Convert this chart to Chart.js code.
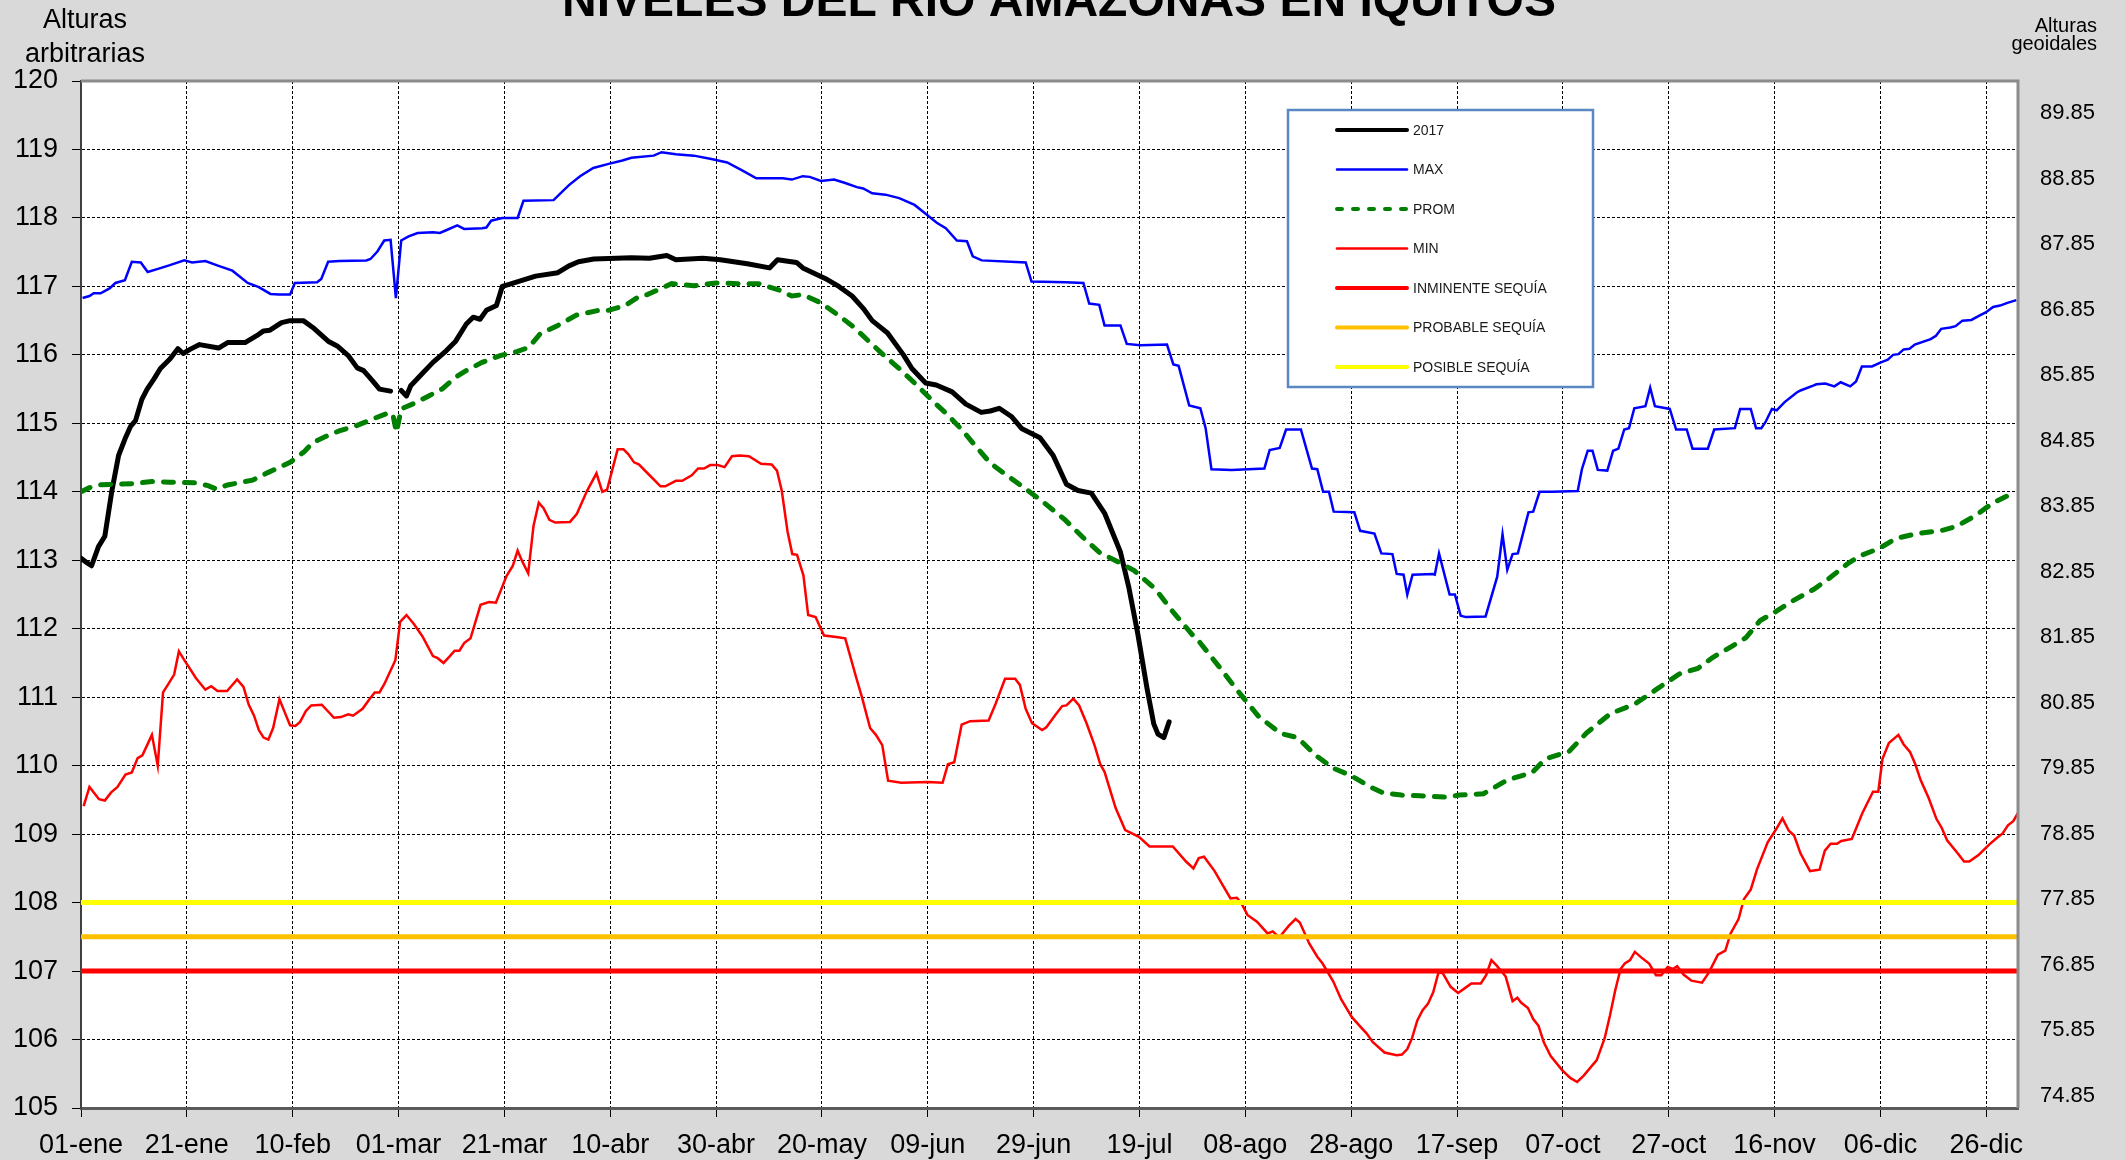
<!DOCTYPE html>
<html>
<head>
<meta charset="utf-8">
<title>Niveles del río Amazonas en Iquitos</title>
<script src="https://cdn.jsdelivr.net/npm/chart.js@4.4.0/dist/chart.umd.min.js"></script>
<style>
  html, body { margin: 0; padding: 0; background: #d9d9d9; }
  #wrap { width: 2125px; height: 1160px; }
</style>
</head>
<body>
<div id="wrap"><canvas id="chart" width="2125" height="1160"></canvas></div>
<script>
// x axis: day of a leap year (0 = 01-ene), ticks every 20 days
const X_MIN = 0;
const X_MAX = 366;
const tickDays = [0, 20, 40, 60, 80, 100, 120, 140, 160, 180, 200, 220, 240, 260, 280, 300, 320, 340, 360];
const tickLabels = ['01-ene', '21-ene', '10-feb', '01-mar', '21-mar', '10-abr', '30-abr', '20-may', '09-jun',
  '29-jun', '19-jul', '08-ago', '28-ago', '17-sep', '07-oct', '27-oct', '16-nov', '06-dic', '26-dic'];

// secondary (geoid) heights shown on the right
const geoidTicks = [74.85, 75.85, 76.85, 77.85, 78.85, 79.85, 80.85, 81.85, 82.85, 83.85, 84.85, 85.85,
  86.85, 87.85, 88.85, 89.85];

// 2017 (29-feb has no reading)
const days2017 = [0, 1, 2, 3.3, 4.5, 5.8, 7.1, 8.3, 9.4, 10.3,
  11.5, 12.5, 13.8, 15, 16.8, 18.3, 19.3, 20.6, 22.4, 26,
  27.7, 31, 33.2, 34.5, 35.7, 37.9, 39.5, 42, 43.8, 46.7,
  48.4, 50.5, 52.2, 53.4, 55.1, 56.4, 58.5, 59, 60.5, 61.5,
  62.3, 64.4, 66.5, 69, 70.8, 72.8, 74.1, 75.4, 76.6, 78.5,
  79.6, 80.9, 85.9, 90.1, 92.2, 94, 96.9, 104, 107.4, 110.7,
  112.4, 117.5, 120.8, 125.9, 130.1, 131.6, 135.2, 136.4, 141, 143.2,
  145.7, 147.8, 149.5, 152.4, 155.4, 157, 159.6, 161.6, 164.6, 167.2,
  170.1, 171.8, 173.5, 175.8, 177.8, 181.2, 183.7, 186.2, 188.4, 190.9,
  193.4, 196.4, 198, 199.7, 201.4, 202.7, 203.5, 204.6, 205.6];
const level2017 = [113.03, 112.97, 112.92, 113.2, 113.35, 114.0, 114.53, 114.77, 114.96, 115.04,
  115.35, 115.5, 115.65, 115.8, 115.94, 116.09, 116.02, 116.08, 116.15, 116.1,
  116.18, 116.18, 116.28, 116.35, 116.36, 116.47, 116.5, 116.5, 116.4, 116.2,
  116.13, 115.99, 115.81, 115.77, 115.62, 115.5, 115.47, null, 115.48, 115.4,
  115.55, 115.72, 115.89, 116.06, 116.2, 116.45, 116.55, 116.52, 116.65, 116.72,
  117.0, 117.03, 117.15, 117.2, 117.3, 117.36, 117.4, 117.42, 117.41, 117.45,
  117.39, 117.41, 117.39, 117.33, 117.27, 117.39, 117.35, 117.27, 117.1, 117.0,
  116.86, 116.68, 116.5, 116.32, 116.0, 115.8, 115.59, 115.56, 115.46, 115.28,
  115.16, 115.18, 115.22, 115.1, 114.92, 114.79, 114.53, 114.11, 114.02, 113.98,
  113.69, 113.12, 112.6, 111.92, 111.14, 110.61, 110.46, 110.41, 110.64];

// historical maximum
const daysMax = [0.3, 1.6, 2.4, 3.7, 5.4, 6.5, 8.3, 9.6, 11.3, 12.6,
  14.7, 16.8, 19.5, 21, 23.5, 26, 28.6, 31.5, 33.6, 35.8,
  37.4, 39.5, 40.4, 44.6, 45.4, 46.7, 48.8, 53.9, 54.7, 56,
  57.3, 58.5, 59.5, 60.5, 61.9, 63.6, 66.5, 67.8, 69, 71.1,
  72.4, 75.8, 76.6, 77.5, 79.6, 82.5, 83.6, 89.3, 90.5, 92.2,
  94.3, 96.8, 99.7, 102.3, 104, 108.2, 109.7, 112.4, 115.8, 119.1,
  122.1, 125, 127.6, 132.6, 134.3, 136.4, 137.7, 139.8, 142.3, 144.4,
  146.6, 147.8, 149.5, 152, 154.6, 157.5, 159.6, 161.7, 163.4, 165.5,
  167.4, 168.5, 170.2, 178.5, 179.6, 186, 189.4, 190.5, 192.4, 193.4,
  196.4, 197.6, 200.2, 205.2, 206.4, 207.4, 209.4, 211.5, 212.5, 213.6,
  217.4, 223.6, 224.6, 226.5, 227.7, 230.5, 232.6, 233.6, 234.7, 235.8,
  236.7, 240.6, 241.7, 244.4, 245.7, 247.8, 248.6, 249.9, 250.6, 251.6,
  255.4, 255.8, 256.6, 258.6, 259.6, 260.7, 261.7, 265.4, 267.6, 268.6,
  269.5, 270.5, 271.5, 273.5, 274.4, 275.6, 278, 282.8, 283.6, 284.7,
  285.6, 286.6, 288.4, 289.5, 290.5, 291.6, 292.5, 293.5, 295.6, 296.5,
  297.4, 300.2, 301.4, 303.4, 304.5, 307.4, 308.6, 312.5, 313.5, 315.5,
  316.5, 317.5, 318.3, 319.5, 320.4, 321.9, 324.2, 324.9, 327.3, 327.9,
  329.6, 331.3, 332.5, 334.3, 335.4, 336.5, 338.4, 340.1, 341.4, 342.4,
  343.4, 344.4, 345.5, 346.5, 349.5, 350.5, 351.5, 353.2, 354.2, 355.5,
  357.2, 358.6, 359.9, 361.3, 362.6, 364, 365.7];
const levelMax = [116.83, 116.86, 116.9, 116.9, 116.97, 117.05, 117.09, 117.36, 117.35, 117.21,
  117.26, 117.31, 117.38, 117.35, 117.37, 117.3, 117.23, 117.05, 116.99, 116.89,
  116.88, 116.88, 117.05, 117.06, 117.11, 117.36, 117.37, 117.38, 117.4, 117.51,
  117.67, 117.68, 116.83, 117.67, 117.73, 117.78, 117.79, 117.78, 117.82, 117.89,
  117.84, 117.85, 117.86, 117.96, 118.0, 118.0, 118.25, 118.26, 118.35, 118.48,
  118.61, 118.73, 118.79, 118.84, 118.88, 118.91, 118.96, 118.93, 118.91, 118.86,
  118.81, 118.69, 118.58, 118.58, 118.56, 118.61, 118.6, 118.54, 118.56, 118.51,
  118.45, 118.43, 118.36, 118.34, 118.29, 118.19, 118.06, 117.93, 117.85, 117.67,
  117.66, 117.44, 117.38, 117.35, 117.07, 117.06, 117.05, 116.75, 116.73, 116.43,
  116.43, 116.16, 116.14, 116.15, 115.86, 115.84, 115.26, 115.22, 114.93, 114.33,
  114.32, 114.34, 114.61, 114.64, 114.91, 114.91, 114.34, 114.33, 114.0, 114.0,
  113.71, 113.7, 113.43, 113.39, 113.1, 113.09, 112.8, 112.79, 112.5, 112.79,
  112.8, 112.79, 113.1, 112.5, 112.5, 112.19, 112.17, 112.18, 112.76, 113.38,
  112.86, 113.09, 113.1, 113.7, 113.71, 114.0, 114.0, 114.01, 114.33, 114.6,
  114.6, 114.32, 114.31, 114.6, 114.63, 114.91, 114.93, 115.22, 115.25, 115.52,
  115.25, 115.21, 114.91, 114.91, 114.63, 114.63, 114.91, 114.93, 115.21, 115.21,
  114.93, 114.93, 115.02, 115.21, 115.19, 115.31, 115.45, 115.48, 115.55, 115.57,
  115.58, 115.54, 115.6, 115.54, 115.61, 115.83, 115.83, 115.89, 115.93, 116.0,
  116.01, 116.08, 116.09, 116.15, 116.23, 116.28, 116.38, 116.4, 116.42, 116.5,
  116.51, 116.57, 116.62, 116.7, 116.72, 116.76, 116.8];

// historical average
const daysAvg = [0, 1.6, 3.3, 6.7, 10, 13.4, 16.8, 21.8, 24, 25.6,
  27.7, 32.4, 35.3, 39.5, 42.1, 43.8, 46.3, 48.8, 52.2, 54.7,
  57.7, 58.9, 59.6, 60.5, 63.2, 65.7, 68.2, 70.7, 72.8, 75.8,
  79.2, 82.5, 84.6, 86.8, 90.1, 93.6, 97.8, 99.6, 102.8, 105.6,
  107, 111.6, 115.8, 120, 124.2, 128, 131.8, 134.3, 136.4, 139.8,
  143.6, 146.1, 148.7, 151.2, 154.6, 157.9, 160.9, 163.8, 166.4, 168.9,
  171.8, 174.6, 178.2, 181.5, 185.8, 189.1, 192.5, 195.9, 199, 203,
  206.5, 209.9, 211.2, 215, 218.5, 222.5, 226.7, 229.9, 233.3, 236.7,
  240.1, 243.6, 246.1, 249.5, 253, 257.9, 260.5, 265, 269.5, 274.2,
  276.7, 281.2, 284.5, 289, 293.6, 297.6, 302, 305.5, 308.3, 311.2,
  314.6, 317.3, 320, 323.5, 327.5, 330.4, 333.8, 336.3, 339.7, 343,
  347, 351.9, 354.5, 357.9, 361.3, 365.6];
const levelAvg = [114.0, 114.06, 114.1, 114.11, 114.12, 114.15, 114.14, 114.13, 114.09, 114.04,
  114.1, 114.17, 114.28, 114.43, 114.58, 114.72, 114.81, 114.89, 114.97, 115.05,
  115.14, 115.14, 114.87, 115.21, 115.3, 115.4, 115.5, 115.67, 115.77, 115.89,
  115.99, 116.05, 116.11, 116.31, 116.43, 116.58, 116.65, 116.65, 116.72, 116.86,
  116.88, 117.04, 117.01, 117.05, 117.04, 117.04, 116.95, 116.86, 116.88, 116.76,
  116.55, 116.4, 116.21, 116.03, 115.8, 115.56, 115.33, 115.12, 114.91, 114.68,
  114.42, 114.26, 114.06, 113.87, 113.6, 113.35, 113.11, 112.98, 112.85, 112.58,
  112.23, 111.92, 111.82, 111.45, 111.1, 110.72, 110.47, 110.41, 110.15, 109.96,
  109.85, 109.69, 109.6, 109.57, 109.56, 109.54, 109.57, 109.59, 109.79, 109.9,
  110.1, 110.21, 110.48, 110.76, 110.9, 111.11, 111.34, 111.42, 111.58, 111.71,
  111.87, 112.12, 112.24, 112.41, 112.58, 112.74, 112.95, 113.07, 113.17, 113.32,
  113.39, 113.44, 113.5, 113.65, 113.84, 114.0];

// historical minimum
const daysMin = [0.5, 1.6, 3.4, 4.5, 5.7, 6.9, 8.4, 9.6, 10.7, 11.6,
  13.4, 14.5, 15.5, 16.4, 17.6, 18.5, 19.7, 20.3, 21.7, 23.5,
  24.6, 25.8, 27.6, 29.5, 30.7, 31.7, 32.7, 33.6, 34.5, 35.4,
  36.3, 37.5, 38.6, 39.5, 40.5, 41.4, 42.5, 43.5, 45.5, 47.8,
  49.1, 50.5, 51.4, 53.2, 54.6, 55.5, 56.4, 57.3, 59.4, 60.3,
  61.5, 62.9, 64.5, 66.5, 67.4, 68.5, 69.7, 70.6, 71.5, 72.4,
  73.6, 75.5, 77.1, 78.4, 80.4, 81.6, 82.5, 83.4, 84.5, 85.5,
  86.5, 87.4, 88.5, 89.6, 92.4, 93.7, 95.6, 97.4, 98.5, 99.4,
  101.4, 102.5, 103.4, 104.5, 105.4, 107.2, 109.5, 110.4, 112.4, 113.6,
  115.4, 116.6, 117.7, 118.9, 120.3, 121.6, 123, 124.4, 126.2, 128.5,
  130.5, 131.5, 132.4, 133.5, 134.4, 135.3, 136.5, 137.4, 138.8, 140.4,
  142.7, 144.4, 146.5, 147.6, 149.1, 150.2, 151.4, 152.5, 155, 160,
  162.8, 163.8, 165, 166.4, 168, 171.5, 172.8, 174.6, 176.5, 177.4,
  178.5, 179.7, 181.6, 182.4, 184.1, 185.4, 186.2, 187.5, 188.6, 190,
  191.5, 192.6, 193.4, 195.5, 197.3, 199.9, 201.9, 206.3, 208.8, 210.2,
  211.2, 212.2, 214.2, 215.7, 217.2, 218.4, 219.2, 220.4, 222.2, 224.2,
  225.2, 226.4, 228.2, 229.5, 230.3, 232.1, 233.6, 234.6, 236.6, 238.1,
  240.1, 241.6, 242.9, 244.1, 246.3, 248.6, 249.6, 250.6, 251.5, 252.5,
  253.5, 254.5, 255.5, 256.5, 257.3, 258.8, 260.2, 261.3, 262.7, 264.5,
  265.5, 266.5, 267.5, 269.2, 270.5, 271.4, 272.1, 273.4, 274.4, 275.4,
  276.4, 277.7, 279.9, 281.4, 282.7, 283.9, 286.4, 287.9, 288.9, 289.9,
  290.9, 291.7, 292.7, 293.6, 294.8, 296.3, 297.6, 298.6, 299.8, 300.8,
  301.6, 302.8, 304.3, 306.3, 307.6, 309.3, 310.7, 311.7, 313.2, 314.2,
  315.5, 316.7, 318.7, 320.2, 321.5, 322.7, 323.7, 324.9, 326.7, 328.5,
  329.5, 330.6, 331.8, 332.6, 334.6, 336.6, 338.6, 339.6, 340.4, 341.6,
  343.4, 344.4, 345.6, 346.6, 347.6, 349.1, 350.6, 351.6, 352.6, 354.6,
  355.8, 356.8, 358.6, 360.6, 362.1, 363.1, 364.1, 365.1, 366];
const levelMin = [109.41, 109.69, 109.51, 109.49, 109.61, 109.69, 109.87, 109.9, 110.11, 110.15,
  110.45, 110.0, 111.07, 111.18, 111.33, 111.67, 111.52, 111.45, 111.28, 111.11,
  111.16, 111.09, 111.09, 111.26, 111.15, 110.89, 110.73, 110.52, 110.41, 110.38,
  110.55, 110.97, 110.76, 110.59, 110.58, 110.64, 110.8, 110.88, 110.89, 110.7,
  110.71, 110.75, 110.73, 110.83, 110.98, 111.07, 111.07, 111.19, 111.54, 112.1,
  112.2, 112.07, 111.89, 111.6, 111.57, 111.5, 111.6, 111.68, 111.68, 111.79,
  111.86, 112.35, 112.39, 112.38, 112.77, 112.92, 113.14, 112.98, 112.81, 113.5,
  113.84, 113.76, 113.59, 113.55, 113.56, 113.68, 114.01, 114.27, 114.0, 114.03,
  114.62, 114.62, 114.55, 114.43, 114.4, 114.26, 114.08, 114.08, 114.16, 114.16,
  114.24, 114.34, 114.34, 114.39, 114.39, 114.36, 114.52, 114.53, 114.52, 114.41,
  114.4, 114.31, 114.02, 113.42, 113.09, 113.08, 112.78, 112.2, 112.17, 111.9,
  111.88, 111.86, 111.28, 110.99, 110.55, 110.45, 110.3, 109.78, 109.75, 109.76,
  109.75, 110.02, 110.05, 110.6, 110.65, 110.66, 110.9, 111.27, 111.27, 111.18,
  110.83, 110.62, 110.52, 110.56, 110.74, 110.87, 110.88, 110.98, 110.88, 110.62,
  110.3, 110.02, 109.91, 109.38, 109.06, 108.96, 108.82, 108.82, 108.6, 108.5,
  108.65, 108.67, 108.46, 108.26, 108.06, 108.07, 108.0, 107.82, 107.72, 107.55,
  107.58, 107.49, 107.66, 107.76, 107.71, 107.4, 107.21, 107.11, 106.85, 106.59,
  106.33, 106.2, 106.09, 105.96, 105.81, 105.77, 105.78, 105.86, 106.02, 106.28,
  106.43, 106.52, 106.69, 106.98, 106.97, 106.77, 106.68, 106.74, 106.82, 106.82,
  106.94, 107.16, 107.08, 106.92, 106.56, 106.61, 106.54, 106.46, 106.3, 106.2,
  105.96, 105.76, 105.55, 105.44, 105.38, 105.47, 105.7, 106.02, 106.35, 106.72,
  107.03, 107.11, 107.16, 107.28, 107.2, 107.11, 106.94, 106.94, 107.06, 107.03,
  107.07, 106.95, 106.86, 106.83, 106.98, 107.24, 107.3, 107.55, 107.76, 108.05,
  108.19, 108.49, 108.88, 109.06, 109.23, 109.05, 108.98, 108.72, 108.46, 108.48,
  108.76, 108.86, 108.86, 108.9, 108.93, 109.31, 109.62, 109.62, 110.1, 110.33,
  110.45, 110.31, 110.2, 110.02, 109.79, 109.53, 109.22, 109.09, 108.91, 108.72,
  108.6, 108.6, 108.7, 108.85, 108.95, 109.01, 109.13, 109.19, 109.31];

// drought alert levels
const droughtImminent = 107;
const droughtProbable = 107.5;
const droughtPossible = 108;

const FONT = "'Liberation Sans', Arial, Helvetica, sans-serif";

function toPoints(days, values) {
  return days.map((d, i) => ({ x: d, y: values[i] }));
}

function flatLine(level) {
  return [{ x: X_MIN, y: level }, { x: X_MAX, y: level }];
}

// background, frame, titles and the boxed legend
const decorations = {
  id: 'decorations',
  beforeDraw(chart) {
    const { ctx, chartArea: a } = chart;
    ctx.save();
    ctx.fillStyle = '#d9d9d9';
    ctx.fillRect(0, 0, chart.width, chart.height);
    ctx.fillStyle = '#ffffff';
    ctx.fillRect(a.left, a.top, a.right - a.left, a.bottom - a.top);
    ctx.restore();
  },
  afterDraw(chart, args, opts) {
    const { ctx, chartArea: a } = chart;
    ctx.save();

    // top and right edges of the plot frame
    ctx.strokeStyle = '#8c8c8c';
    ctx.lineWidth = 3;
    ctx.beginPath();
    ctx.moveTo(a.left, a.top);
    ctx.lineTo(a.right, a.top);
    ctx.lineTo(a.right, a.bottom);
    ctx.stroke();

    ctx.fillStyle = '#000';
    ctx.font = `bold 48px ${FONT}`;
    ctx.textAlign = 'center';
    ctx.textBaseline = 'alphabetic';
    ctx.fillText('NIVELES DEL RÍO AMAZONAS EN IQUITOS', 1059, 16);

    ctx.font = `27px ${FONT}`;
    ctx.fillText('Alturas', 85, 28);
    ctx.fillText('arbitrarias', 85, 62);

    ctx.font = `20px ${FONT}`;
    ctx.textAlign = 'right';
    ctx.fillText('Alturas', 2097, 32);
    ctx.fillText('geoidales', 2097, 50);

    // legend
    const L = opts.box;
    ctx.fillStyle = '#ffffff';
    ctx.fillRect(L.left, L.top, L.width, L.height);
    ctx.strokeStyle = '#5b87c2';
    ctx.lineWidth = 2.5;
    ctx.strokeRect(L.left, L.top, L.width, L.height);

    ctx.font = `14px ${FONT}`;
    ctx.textAlign = 'left';
    ctx.textBaseline = 'middle';
    chart.data.datasets.forEach((ds, i) => {
      const y = L.top + L.firstRow + i * L.rowGap;
      ctx.save();
      ctx.strokeStyle = ds.borderColor;
      ctx.lineWidth = Math.min(ds.borderWidth, 4);
      ctx.lineCap = 'round';
      ctx.setLineDash(ds.borderDash ? [5, 11] : []);
      ctx.beginPath();
      ctx.moveTo(L.left + L.sampleX, y);
      ctx.lineTo(L.left + L.sampleX + L.sampleLen, y);
      ctx.stroke();
      ctx.restore();
      ctx.fillStyle = '#1a1a1a';
      ctx.fillText(ds.label, L.left + L.textX, y + 1);
    });

    ctx.restore();
  }
};

const gridStyle = {
  color: '#000',
  lineWidth: 1,
  tickLength: 9,
  tickColor: '#000',
  tickWidth: 1,
  tickBorderDash: []
};

new Chart(document.getElementById('chart'), {
  type: 'line',
  data: {
    datasets: [
      {
        label: '2017',
        data: toPoints(days2017, level2017),
        borderColor: '#000000',
        borderWidth: 5,
        borderCapStyle: 'round',
        borderJoinStyle: 'round',
        order: 7
      },
      {
        label: 'MAX',
        data: toPoints(daysMax, levelMax),
        borderColor: '#0000ff',
        borderWidth: 2.5,
        order: 6
      },
      {
        label: 'PROM',
        data: toPoints(daysAvg, levelAvg),
        borderColor: '#008000',
        borderWidth: 5,
        borderDash: [10, 11],
        borderCapStyle: 'round',
        order: 5
      },
      {
        label: 'MIN',
        data: toPoints(daysMin, levelMin),
        borderColor: '#ff0000',
        borderWidth: 2.5,
        order: 4
      },
      {
        label: 'INMINENTE SEQUÍA',
        data: flatLine(droughtImminent),
        borderColor: '#ff0000',
        borderWidth: 5,
        order: 3
      },
      {
        label: 'PROBABLE SEQUÍA',
        data: flatLine(droughtProbable),
        borderColor: '#ffc000',
        borderWidth: 5,
        order: 2
      },
      {
        label: 'POSIBLE SEQUÍA',
        data: flatLine(droughtPossible),
        borderColor: '#ffff00',
        borderWidth: 5,
        order: 1
      }
    ]
  },
  options: {
    responsive: false,
    animation: false,
    devicePixelRatio: 1,
    spanGaps: false,
    elements: { point: { radius: 0 }, line: { tension: 0 } },
    layout: { padding: { top: 81, left: 0, right: 0, bottom: 0 } },
    plugins: {
      legend: { display: false },
      tooltip: { enabled: false },
      decorations: {
        box: { left: 1288, top: 110, width: 305, height: 277, firstRow: 20, rowGap: 39.5,
          sampleX: 49, sampleLen: 70, textX: 125 }
      }
    },
    scales: {
      x: {
        type: 'linear',
        min: X_MIN,
        max: X_MAX,
        afterBuildTicks: (axis) => { axis.ticks = tickDays.map(v => ({ value: v })); },
        afterFit: (axis) => { axis.height = 52; },
        grid: gridStyle,
        border: { display: true, color: '#5a5a5a', width: 3, dash: [3, 2] },
        ticks: {
          autoSkip: false,
          maxRotation: 0,
          padding: 12,
          color: '#000',
          font: { family: FONT, size: 27 },
          callback: (value, index) => tickLabels[index]
        }
      },
      y: {
        type: 'linear',
        position: 'left',
        min: 105,
        max: 120,
        afterFit: (axis) => { axis.width = 81; },
        grid: gridStyle,
        border: { display: true, color: '#404040', width: 2, dash: [3, 2] },
        ticks: {
          stepSize: 1,
          padding: 14,
          color: '#000',
          font: { family: FONT, size: 27 }
        }
      },
      yGeo: {
        type: 'linear',
        position: 'right',
        min: 74.66,
        max: 90.34,
        afterBuildTicks: (axis) => { axis.ticks = geoidTicks.map(v => ({ value: v })); },
        afterFit: (axis) => { axis.width = 107; },
        grid: { display: false, drawTicks: false },
        border: { display: false },
        ticks: {
          padding: 22,
          color: '#000',
          font: { family: FONT, size: 22 },
          callback: (value) => value.toFixed(2)
        }
      }
    }
  },
  plugins: [decorations]
});
</script>
</body>
</html>
